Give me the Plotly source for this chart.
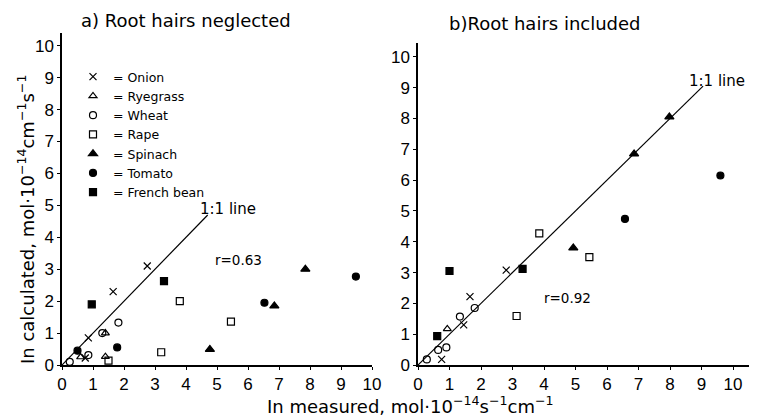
import plotly.graph_objects as go

# ---------------- data ----------------
species = ["Onion", "Ryegrass", "Wheat", "Rape", "Spinach", "Tomato", "French bean"]
symbols = ["x-thin", "triangle-up-open", "circle-open", "square-open", "triangle-up", "circle", "square"]
sizes = [7, 7, 7, 7, 8, 7, 7]

# a) root hairs neglected: (measured, calculated)
a_x = {
    "Onion": [0.75, 0.85, 1.65, 2.75],
    "Ryegrass": [0.6, 1.4, 1.4],
    "Wheat": [0.25, 0.85, 1.3, 1.82],
    "Rape": [1.5, 3.2, 3.8, 5.45],
    "Spinach": [4.77, 6.85, 7.85],
    "Tomato": [0.5, 1.78, 6.53, 9.48],
    "French bean": [0.96, 3.29],
}
a_y = {
    "Onion": [0.22, 0.85, 2.3, 3.1],
    "Ryegrass": [0.25, 1.0, 0.26],
    "Wheat": [0.1, 0.31, 1.0, 1.33],
    "Rape": [0.14, 0.4, 2.0, 1.36],
    "Spinach": [0.49, 1.85, 3.0],
    "Tomato": [0.45, 0.55, 1.95, 2.77],
    "French bean": [1.9, 2.63],
}
# b) root hairs included
b_x = {
    "Onion": [0.75, 1.45, 1.65, 2.8],
    "Ryegrass": [0.93],
    "Wheat": [0.28, 0.64, 0.9, 1.33, 1.8],
    "Rape": [3.13, 3.85, 5.44],
    "Spinach": [4.93, 6.86, 7.98],
    "Tomato": [6.57, 9.6],
    "French bean": [0.61, 1.0, 3.32],
}
b_y = {
    "Onion": [0.18, 1.3, 2.22, 3.08],
    "Ryegrass": [1.17],
    "Wheat": [0.18, 0.49, 0.57, 1.57, 1.85],
    "Rape": [1.59, 4.27, 3.5],
    "Spinach": [3.8, 6.85, 8.05],
    "Tomato": [4.74, 6.15],
    "French bean": [0.94, 3.05, 3.12],
}

line_a = [0, 4.7]
line_b = [0, 9.05]
r_a = "r=0.63"
r_b = "r=0.92"
ticks = list(range(0, 11))

FONT = "DejaVu Sans"
NUMFONT = "Liberation Sans Narrow, Liberation Sans"
W, H = 757, 417
OFF = 8  # page body margin of the html page
FW, FH = W - OFF, H - OFF

fig = go.Figure()

# 1:1 lines
fig.add_trace(go.Scatter(x=line_a, y=line_a, mode="lines", line=dict(color="black", width=1.2),
                         showlegend=False, xaxis="x", yaxis="y", hoverinfo="skip"))
fig.add_trace(go.Scatter(x=line_b, y=line_b, mode="lines", line=dict(color="black", width=1.2),
                         showlegend=False, xaxis="x2", yaxis="y2", hoverinfo="skip"))

for sp, sym, sz in zip(species, symbols, sizes):
    mk = dict(symbol=sym, size=sz, color="black", line=dict(color="black", width=1.2))
    fig.add_trace(go.Scatter(x=a_x[sp], y=a_y[sp], mode="markers", marker=mk,
                             name="= " + sp, showlegend=True, xaxis="x", yaxis="y"))
    fig.add_trace(go.Scatter(x=b_x[sp], y=b_y[sp], mode="markers", marker=mk,
                             name="= " + sp, showlegend=False, xaxis="x2", yaxis="y2"))

def px_x(p):
    return (p - OFF) / FW

def px_y(p):
    return 1 - (p - OFF) / FH

axis_common = dict(showline=True, linecolor="black", linewidth=1.5, ticks="outside",
                   ticklen=3, tickwidth=1.2, tickcolor="black", showgrid=False, zeroline=False,
                   tickvals=ticks, tickfont=dict(family=NUMFONT, size=17, color="black"),
                   fixedrange=True, automargin=False)

fig.update_layout(
    width=FW, height=FH,
    margin=dict(l=0, r=0, t=0, b=0, autoexpand=False),
    paper_bgcolor="white", plot_bgcolor="white",
    font=dict(family=FONT, color="black"),
    xaxis=dict(domain=[px_x(62), px_x(372)], range=[0, 10], anchor="y", **axis_common),
    yaxis=dict(domain=[px_y(365), px_y(33)], range=[0, 10.4], anchor="x", **axis_common),
    xaxis2=dict(domain=[px_x(418), px_x(756)], range=[0, 10.73], anchor="y2", **axis_common),
    yaxis2=dict(domain=[px_y(365), px_y(43)], range=[0, 10.45], anchor="x2", **axis_common),
    legend=dict(x=px_x(73), y=px_y(62), xanchor="left", yanchor="top",
                font=dict(family=FONT, size=12.5, color="black"), bgcolor="rgba(0,0,0,0)",
                tracegroupgap=0, itemwidth=30),
    showlegend=True,
)

def ann_px(text, x, y, size, angle=0):
    return dict(text=text, x=px_x(x), y=px_y(y), xref="paper", yref="paper",
                xanchor="center", yanchor="middle", textangle=angle,
                showarrow=False, font=dict(size=size, family=FONT))

ann = [
    ann_px("a) Root hairs neglected", 186, 21, 18),
    ann_px("b)Root hairs included", 545, 23, 18),
    ann_px("1:1 line", 228, 209, 15),
    ann_px("1:1 line", 717, 81, 15),
    dict(text=r_a, x=5.7, y=3.3, xref="x", yref="y", showarrow=False,
         xanchor="center", yanchor="middle", font=dict(size=13.5, family=FONT)),
    dict(text=r_b, x=4.75, y=2.17, xref="x2", yref="y2", showarrow=False,
         xanchor="center", yanchor="middle", font=dict(size=13.5, family=FONT)),
    ann_px("In calculated, mol·10<sup>−14</sup>cm<sup>−1</sup>s<sup>−1</sup>", 26, 220, 18, -90),
    ann_px("In measured, mol·10<sup>−14</sup>s<sup>−1</sup>cm<sup>−1</sup>", 410, 405, 18),
]
fig.update_layout(annotations=ann)

fig.write_html("out.html")
